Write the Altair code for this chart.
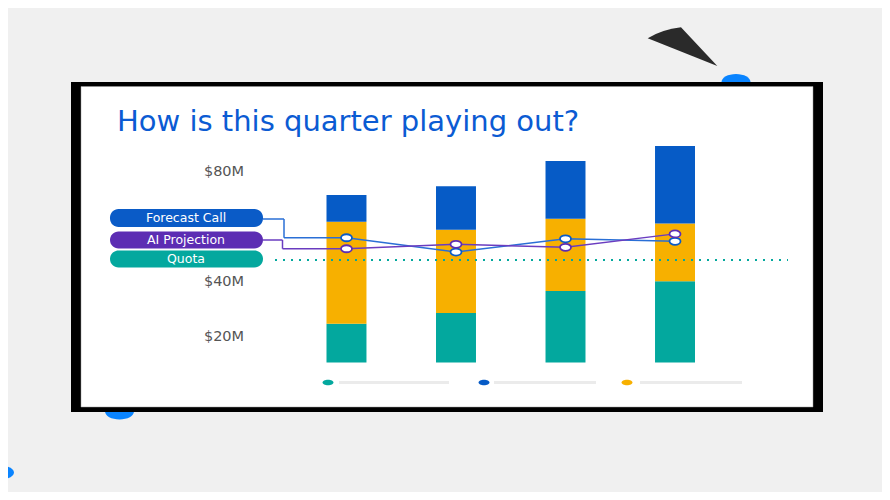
import altair as alt
import pandas as pd

# ---------------- data ----------------
quarters = ["Q1", "Q2", "Q3", "Q4"]
segments = ["Closed won", "Commit", "Best case"]          # stacked bottom -> top
segment_colors = ["#03a89e", "#f7b000", "#065bc6"]
legend_order = ["Closed won", "Best case", "Commit"]       # teal, blue, yellow

bar_floor = 10.7                                           # $M, visible base of bars
closed_won = [14.1, 18.0, 26.0, 29.6]
commit = [37.1, 30.3, 26.3, 21.0]
best_case = [9.7, 15.8, 21.0, 28.2]

forecast_call = [56.1, 50.9, 55.7, 54.8]
ai_projection = [52.1, 53.7, 52.6, 57.5]
quota = 48.0

tick_values = [20, 40, 80]
series_names = ["Forecast Call", "AI Projection", "Quota"]
title_text = "How is this quarter playing out?"

# ---------------- tables ----------------
rows = []
for i, q in enumerate(quarters):
    lo = bar_floor
    for seg, vals in zip(segments, [closed_won, commit, best_case]):
        hi = lo + vals[i]
        rows.append({"quarter": q, "segment": seg, "y0": lo, "y1": hi})
        lo = hi
bars_df = pd.DataFrame(rows)

lines_df = pd.DataFrame(
    [{"quarter": q, "series": "Forecast Call", "value": v} for q, v in zip(quarters, forecast_call)]
    + [{"quarter": q, "series": "AI Projection", "value": v} for q, v in zip(quarters, ai_projection)]
)
quota_df = pd.DataFrame({"quota": [quota]})
ticks_df = pd.DataFrame({"v": tick_values})
one = pd.DataFrame({"k": [0]})

# ---------------- layout (pixels, reference coords minus page margin) ----------------
OFF = 8
def px(v):
    return v - OFF

W, H = 874, 484
FONT = "DejaVu Sans"
BLUE_DOT = "#0a84ff"

xscale = alt.Scale(domain=quarters, range=[px(326.5), px(695)], paddingInner=0.635, paddingOuter=0)
yscale = alt.Scale(domain=[0, 100], range=[px(392), px(117)], zero=False, nice=False)
cscale = alt.Scale(domain=segments, range=segment_colors)

def ellipse(rx, ry):
    return f"M{-rx},0A{rx},{ry} 0 1,0 {rx},0A{rx},{ry} 0 1,0 {-rx},0Z"

layers = []

# background decorations
tri = f"M{px(647.7)},{px(38.3)}Q{px(662)},{px(29.5)} {px(681)},{px(27.3)}L{px(717.3)},{px(66)}Z"
layers.append(alt.Chart(one).mark_point(shape=tri, size=4, filled=True, fill="#2a2a2a", opacity=1, strokeWidth=0)
              .encode(x=alt.value(0), y=alt.value(0)))
for cx, cy, rx, ry in [(826.7, -1, 14, 8), (736, 82, 14.5, 8), (119.5, 411.5, 14.5, 8), (0, 472.5, 14, 7)]:
    layers.append(alt.Chart(one).mark_point(shape=ellipse(rx, ry), size=4, filled=True, fill=BLUE_DOT,
                                            opacity=1, strokeWidth=0)
                  .encode(x=alt.value(px(cx)), y=alt.value(px(cy))))

# card frame
layers.append(alt.Chart(one).mark_rect(color="#000000")
              .encode(x=alt.value(px(71)), x2=alt.value(px(823)), y=alt.value(px(82)), y2=alt.value(px(412))))
layers.append(alt.Chart(one).mark_rect(color="#ffffff", stroke="#9a9a9a", strokeWidth=0.5)
              .encode(x=alt.value(px(81)), x2=alt.value(px(813)), y=alt.value(px(86.5)), y2=alt.value(px(407))))

# title
layers.append(alt.Chart(one).mark_text(text=title_text, font=FONT, fontSize=29, color="#0b5bd3",
                                       align="left", baseline="alphabetic")
              .encode(x=alt.value(px(117)), y=alt.value(px(131))))

# y tick labels (placed through the y scale)
layers.append(alt.Chart(ticks_df).transform_calculate(label="'$' + datum.v + 'M'")
              .mark_text(font=FONT, fontSize=14.5, color="#555555", align="center", baseline="middle")
              .encode(x=alt.value(px(224)), y=alt.Y("v:Q", scale=yscale, axis=None), text="label:N"))

# stacked bars
layers.append(alt.Chart(bars_df).mark_bar(stroke=None)
              .encode(
                  x=alt.X("quarter:N", scale=xscale, axis=None),
                  y=alt.Y("y0:Q", scale=yscale, axis=None),
                  y2="y1:Q",
                  color=alt.Color("segment:N", scale=cscale, legend=None),
              ))

# quota dotted line
layers.append(alt.Chart(quota_df).mark_rule(color="#03a89e", strokeWidth=2, strokeDash=[2, 6])
              .encode(x=alt.value(px(275)), x2=alt.value(px(788)),
                      y=alt.Y("quota:Q", scale=yscale, axis=None)))

# pills
pill_specs = [
    ("Forecast Call", "#0a5bc7", 209, 227),
    ("AI Projection", "#5c2db3", 231.5, 248.5),
    ("Quota", "#04a89e", 250.5, 267.5),
]
for name, col, y0, y1 in pill_specs:
    layers.append(alt.Chart(one).mark_rect(color=col, cornerRadius=8.5)
                  .encode(x=alt.value(px(110)), x2=alt.value(px(263)), y=alt.value(px(y0)), y2=alt.value(px(y1))))
    layers.append(alt.Chart(one).mark_text(text=name, font=FONT, fontSize=12.5, color="#ffffff",
                                           align="center", baseline="middle")
                  .encode(x=alt.value(px(186)), y=alt.value(px((y0 + y1) / 2))))

# connectors + lines + points
line_specs = [("Forecast Call", "#2a6fd6", "#0a5bc7", 219, 284),
              ("AI Projection", "#6a3cc0", "#5c2db3", 240, 282.5)]
for name, lcol, pcol, ypill, xj in line_specs:
    first = lines_df[(lines_df.series == name) & (lines_df.quarter == quarters[0])]
    layers.append(alt.Chart(one).mark_rule(color=lcol, strokeWidth=1.5)
                  .encode(x=alt.value(px(263)), x2=alt.value(px(xj)), y=alt.value(px(ypill))))
    layers.append(alt.Chart(first).mark_rule(color=lcol, strokeWidth=1.5)
                  .encode(x=alt.value(px(xj)), y=alt.Y("value:Q", scale=yscale, axis=None),
                          y2=alt.value(px(ypill))))
    layers.append(alt.Chart(first).mark_rule(color=lcol, strokeWidth=1.5)
                  .encode(x=alt.X("quarter:N", scale=xscale, bandPosition=0.5, axis=None),
                          x2=alt.value(px(xj)),
                          y=alt.Y("value:Q", scale=yscale, axis=None)))
for name, lcol, pcol, ypill, xj in line_specs:
    layers.append(alt.Chart(lines_df).transform_filter(alt.datum.series == name)
                  .mark_line(color=lcol, strokeWidth=1.5)
                  .encode(x=alt.X("quarter:N", scale=xscale, bandPosition=0.5, axis=None),
                          y=alt.Y("value:Q", scale=yscale, axis=None)))
for name, lcol, pcol, ypill, xj in line_specs:
    layers.append(alt.Chart(lines_df).transform_filter(alt.datum.series == name)
                  .mark_point(shape=ellipse(5.5, 3.5), size=4, filled=True, fill="#ffffff",
                              stroke=pcol, strokeWidth=1.8, opacity=1)
                  .encode(x=alt.X("quarter:N", scale=xscale, bandPosition=0.5, axis=None),
                          y=alt.Y("value:Q", scale=yscale, axis=None)))

# bottom legend (swatch + placeholder bar)
legend_pos = [(328, 339, 449), (484, 494, 596), (627, 640, 742)]
for seg, (cx, bx0, bx1) in zip(legend_order, legend_pos):
    seg_df = pd.DataFrame({"segment": [seg]})
    layers.append(alt.Chart(seg_df).mark_rect(color="#ebebeb")
                  .encode(x=alt.value(px(bx0)), x2=alt.value(px(bx1)),
                          y=alt.value(px(381)), y2=alt.value(px(384))))
    layers.append(alt.Chart(seg_df).mark_point(shape=ellipse(5.5, 2.8), size=4, filled=True,
                                               opacity=1, strokeWidth=0)
                  .encode(x=alt.value(px(cx)), y=alt.value(px(382.5)),
                          color=alt.Color("segment:N", scale=cscale, legend=None)))

chart = (
    alt.layer(*layers)
    .properties(width=W, height=H, autosize=alt.AutoSizeParams(type="none"), padding=0,
                background="#f0f0f0")
    .configure_view(strokeWidth=0, fill=None)
)

chart.save("out.html", embed_options={"renderer": "svg", "actions": False})
